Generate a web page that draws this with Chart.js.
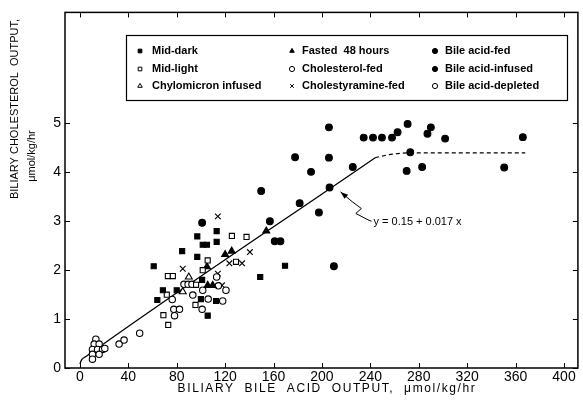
<!DOCTYPE html>
<html>
<head>
<meta charset="utf-8">
<script src="https://cdn.jsdelivr.net/npm/chart.js@4.4.1/dist/chart.umd.min.js"></script>
<style>
  html, body { margin: 0; padding: 0; background: #fff; }
</style>
</head>
<body>
<canvas id="chart" width="583" height="404"></canvas>
<script>
// axis ticks
const xTicks = [0, 40, 80, 120, 160, 200, 240, 280, 320, 360, 400];
const yTicks = [0, 1, 2, 3, 4, 5];

// series (bile acid output, cholesterol output)
const midDarkX = [97, 113, 101.5, 105, 113, 84.5, 97, 61, 101, 68.6, 80, 64, 100, 112.5, 105.6, 149, 169.5];
const midDarkY = [2.69, 2.80, 2.52, 2.52, 2.58, 2.39, 2.27, 2.08, 1.80, 1.59, 1.59, 1.39, 1.41, 1.37, 1.07, 1.86, 2.09];

const midLightX = [125.6, 137.7, 129, 72.7, 76.8, 105.6, 101.5, 96, 71.8, 95.5, 69, 73];
const midLightY = [2.70, 2.68, 2.17, 1.88, 1.88, 2.20, 2.00, 1.70, 1.50, 1.29, 1.08, 0.88];

const chyloX = [90, 85];
const chyloY = [1.86, 1.56];

const fastedX = [154, 120, 125.4, 105, 105.6, 109.7];
const fastedY = [2.80, 2.32, 2.39, 2.07, 1.69, 1.69];

const cholFedX = [86, 89.4, 92.6, 120.7, 101.5, 76.3, 93.3, 106, 118, 101, 77.6, 82.3, 78.2, 113, 114.4];
const cholFedY = [1.71, 1.71, 1.71, 1.59, 1.59, 1.40, 1.49, 1.41, 1.37, 1.20, 1.20, 1.20, 1.07, 1.86, 1.68];

const cholestyX = [114, 123.5, 140.5, 134, 85, 114, 117.4];
const cholestyY = [3.10, 2.14, 2.37, 2.14, 2.03, 1.93, 1.69];

const baFedX = [205.8, 234.5, 242.2, 249.6, 257.9, 262.5, 270.8, 290, 287.2, 301.8, 366, 177.8, 205.8, 273, 191, 225.5, 270, 282.8, 350.6];
const baFedY = [4.92, 4.71, 4.71, 4.71, 4.71, 4.82, 4.99, 4.92, 4.79, 4.69, 4.72, 4.31, 4.30, 4.41, 4.01, 4.11, 4.03, 4.11, 4.10];

const baInfX = [149.8, 206.3, 181.6, 197.5, 157, 161, 165.7, 209.9, 101];
const baInfY = [3.62, 3.69, 3.37, 3.18, 3.00, 2.59, 2.59, 2.08, 2.97];

const baDepX = [13.2, 11.8, 15.9, 10.4, 14.6, 18.7, 10.4, 15.9, 20.6, 10.4, 32.4, 36.5, 49.4];
const baDepY = [0.59, 0.49, 0.49, 0.38, 0.38, 0.38, 0.28, 0.28, 0.40, 0.18, 0.49, 0.57, 0.71];

// regression line y = 0.15 + 0.017x and dashed plateau
const fitX = [0, 1.5, 5, 244];
const fitY = [0.08, 0.17, 0.235, 4.30];
const plateauX = [244, 255, 265, 275, 368];
const plateauY = [4.30, 4.36, 4.39, 4.40, 4.40];

// annotation arrow (data units), tip last
const arrowX = [241, 238, 228, 232.6, 225, 215.4];
const arrowY = [3.00, 3.03, 3.16, 3.26, 3.40, 3.60];
const eqText = "y = 0.15 + 0.017 x";

const fontFam = "'Liberation Sans', Arial, sans-serif";

function pts(xs, ys) {
  return xs.map((x, i) => ({ x, y: ys[i] }));
}

function series(label, xs, ys, style, filled, radius) {
  return {
    type: "scatter",
    label,
    data: pts(xs, ys),
    pointStyle: style,
    pointRadius: radius || 3,
    pointBorderWidth: 1.1,
    pointBorderColor: "#000",
    pointBackgroundColor: filled ? "#000" : "#fff",
    isMarker: true,
  };
}

const datasets = [
  series("Mid-dark", midDarkX, midDarkY, "rect", true, 3.6),
  series("Mid-light", midLightX, midLightY, "rect", false, 3.6),
  series("Chylomicron infused", chyloX, chyloY, "triangle", false, 4),
  series("Fasted  48 hours", fastedX, fastedY, "triangle", true, 4),
  series("Cholesterol-fed", cholFedX, cholFedY, "circle", false, 3.2),
  series("Cholestyramine-fed", cholestyX, cholestyY, "crossRot", false, 4),
  series("Bile acid-fed", baFedX, baFedY, "circle", true, 3.4),
  series("Bile acid-infused", baInfX, baInfY, "circle", true, 3.4),
  series("Bile acid-depleted", baDepX, baDepY, "circle", false, 3.2),
  {
    type: "line",
    label: "fit",
    data: pts(fitX, fitY),
    borderColor: "#000",
    borderWidth: 1.3,
    pointRadius: 0,
    cubicInterpolationMode: "monotone",
  },
  {
    type: "line",
    label: "plateau",
    data: pts(plateauX, plateauY),
    borderColor: "#000",
    borderWidth: 1.2,
    borderDash: [4, 3],
    pointRadius: 0,
    cubicInterpolationMode: "monotone",
  },
];

// frame, inward ticks, legend, titles, annotation
const decorPlugin = {
  id: "decor",
  afterDraw(chart) {
    const { ctx, chartArea: a, scales } = chart;
    const xs = scales.x, ys = scales.y;
    ctx.save();
    ctx.strokeStyle = "#000";
    ctx.lineWidth = 1.5;
    ctx.strokeRect(a.left, a.top, a.right - a.left, a.bottom - a.top);

    ctx.lineWidth = 1;
    const tl = 5;
    ctx.beginPath();
    xTicks.forEach((v) => {
      const px = Math.round(xs.getPixelForValue(v)) + 0.5;
      ctx.moveTo(px, a.bottom); ctx.lineTo(px, a.bottom - tl);
      ctx.moveTo(px, a.top); ctx.lineTo(px, a.top + tl);
    });
    yTicks.forEach((v) => {
      const py = Math.round(ys.getPixelForValue(v)) + 0.5;
      ctx.moveTo(a.left, py); ctx.lineTo(a.left + tl, py);
      ctx.moveTo(a.right, py); ctx.lineTo(a.right - tl, py);
    });
    ctx.stroke();

    // legend box
    const lx = 126, ly = 35, lw = 441, lh = 65;
    ctx.lineWidth = 1.2;
    ctx.strokeRect(lx + 0.5, ly + 0.5, lw, lh);
    const colMark = [140, 292, 435];
    const colText = [152, 302, 445];
    const rowY = [51, 69, 86];
    ctx.font = "bold 11px " + fontFam;
    ctx.textBaseline = "middle";
    ctx.textAlign = "left";
    chart.data.datasets.filter((d) => d.isMarker).forEach((d, i) => {
      const c = Math.floor(i / 3), r = i % 3;
      ctx.fillStyle = d.pointBackgroundColor;
      ctx.strokeStyle = "#000";
      ctx.lineWidth = 1;
      Chart.helpers.drawPoint(ctx, { pointStyle: d.pointStyle, radius: 2.6, borderWidth: 1, rotation: 0 }, colMark[c], rowY[r]);
      ctx.fillStyle = "#000";
      ctx.fillText(d.label, colText[c], rowY[r]);
    });

    // equation annotation with wavy arrow
    ctx.strokeStyle = "#000";
    ctx.lineWidth = 1;
    ctx.beginPath();
    arrowX.forEach((v, i) => {
      const px = xs.getPixelForValue(v), py = ys.getPixelForValue(arrowY[i]);
      if (i === 0) ctx.moveTo(px, py); else ctx.lineTo(px, py);
    });
    ctx.stroke();
    const n = arrowX.length;
    const tx = xs.getPixelForValue(arrowX[n - 1]), ty = ys.getPixelForValue(arrowY[n - 1]);
    const bx = xs.getPixelForValue(arrowX[n - 2]), by = ys.getPixelForValue(arrowY[n - 2]);
    const ang = Math.atan2(ty - by, tx - bx);
    ctx.fillStyle = "#000";
    ctx.beginPath();
    ctx.moveTo(tx, ty);
    ctx.lineTo(tx - 8 * Math.cos(ang - 0.35), ty - 8 * Math.sin(ang - 0.35));
    ctx.lineTo(tx - 8 * Math.cos(ang + 0.35), ty - 8 * Math.sin(ang + 0.35));
    ctx.closePath();
    ctx.fill();
    ctx.font = "11px " + fontFam;
    ctx.textBaseline = "middle";
    ctx.fillText(eqText, xs.getPixelForValue(arrowX[0]) + 2, ys.getPixelForValue(arrowY[0]) + 1);

    // axis titles
    ctx.font = "12px " + fontFam;
    ctx.letterSpacing = "1.6px";
    ctx.textAlign = "center";
    ctx.textBaseline = "middle";
    ctx.fillText("BILIARY  BILE  ACID  OUTPUT,  μmol/kg/hr", 327, 389);
    ctx.font = "11px " + fontFam;
    ctx.letterSpacing = "0px";
    ctx.translate(15, 109);
    ctx.rotate(-Math.PI / 2);
    ctx.fillText("BILIARY CHOLESTEROL  OUTPUT,", 0, 0);
    ctx.rotate(Math.PI / 2);
    ctx.translate(17, 47);
    ctx.rotate(-Math.PI / 2);
    ctx.fillText("μmol/kg/hr", 0, 0);
    ctx.restore();
  },
};

new Chart(document.getElementById("chart"), {
  data: { datasets },
  options: {
    responsive: false,
    animation: false,
    devicePixelRatio: 1,
    layout: { padding: { top: 12, right: 3, left: 0, bottom: 0 } },
    plugins: { legend: { display: false }, tooltip: { enabled: false } },
    scales: {
      x: {
        type: "linear",
        min: -12.3,
        max: 411.5,
        afterBuildTicks: (s) => { s.ticks = xTicks.map((v) => ({ value: v })); },
        afterFit: (s) => { s.height = 36; },
        ticks: { color: "#000", padding: 1, font: { family: fontFam, size: 14 } },
        grid: { display: false, drawTicks: false },
        border: { display: false },
      },
      y: {
        type: "linear",
        min: 0,
        max: 7.27,
        afterBuildTicks: (s) => { s.ticks = yTicks.map((v) => ({ value: v })); },
        afterFit: (s) => { s.width = 65; },
        ticks: { color: "#000", padding: 4, font: { family: fontFam, size: 14 } },
        grid: { display: false, drawTicks: false },
        border: { display: false },
      },
    },
  },
  plugins: [decorPlugin],
});
</script>
</body>
</html>
